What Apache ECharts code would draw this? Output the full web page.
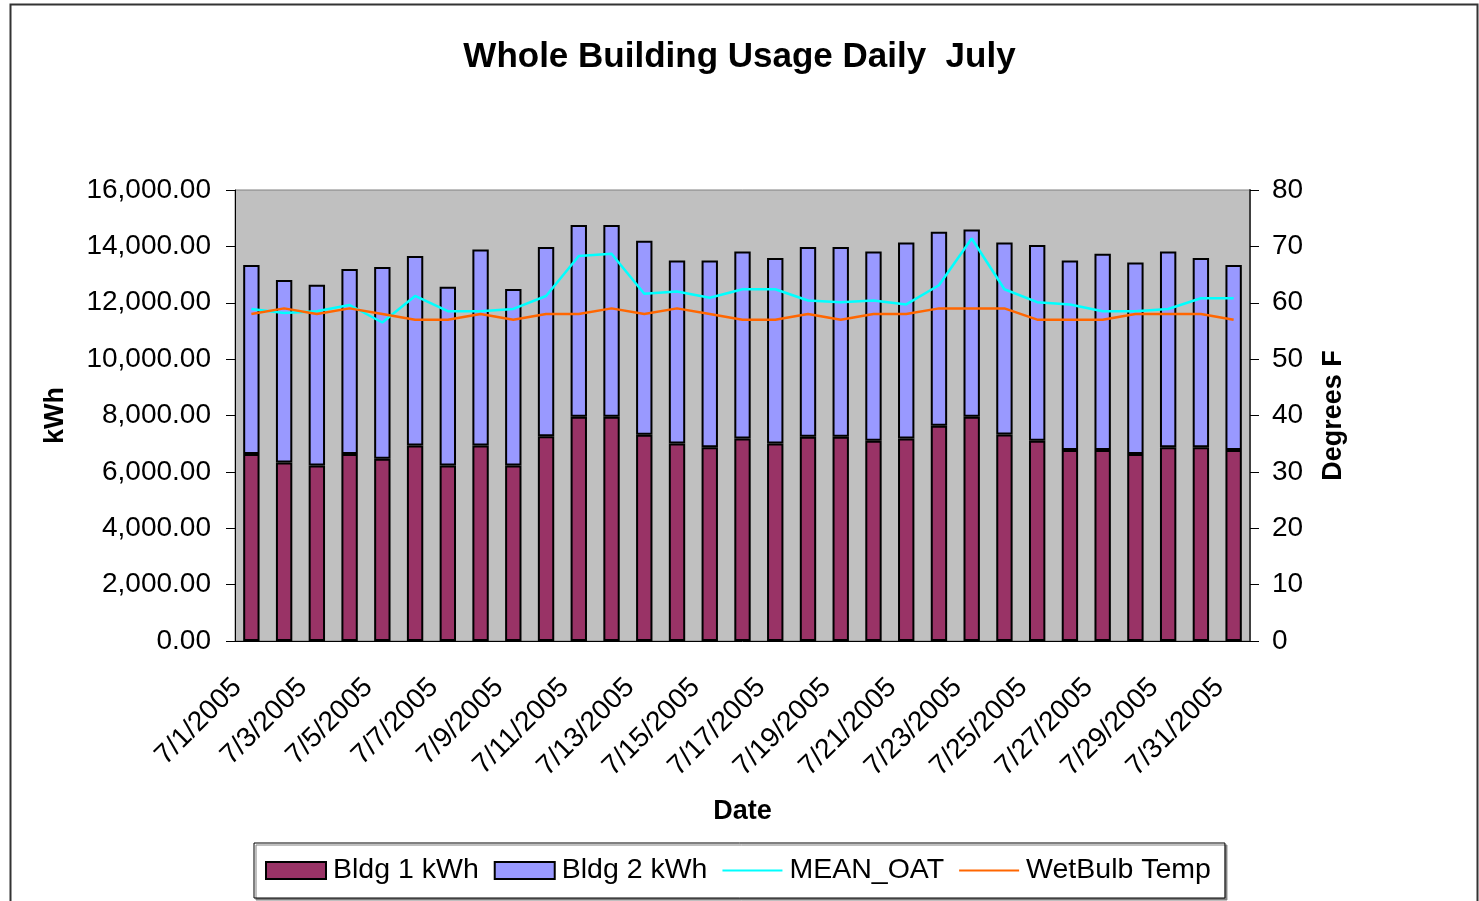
<!DOCTYPE html>
<html>
<head>
<meta charset="utf-8">
<script src="https://cdn.jsdelivr.net/npm/echarts@6/dist/echarts.min.js"></script>
<style>
  html, body { margin: 0; padding: 0; background: #fff; }
  #main { width: 1479px; height: 901px; }
</style>
</head>
<body>
<div id="main"></div>
<script>
// daily values, July 2005
const dates = ['7/1/2005', '7/2/2005', '7/3/2005', '7/4/2005', '7/5/2005', '7/6/2005', '7/7/2005', '7/8/2005',
  '7/9/2005', '7/10/2005', '7/11/2005', '7/12/2005', '7/13/2005', '7/14/2005', '7/15/2005', '7/16/2005',
  '7/17/2005', '7/18/2005', '7/19/2005', '7/20/2005', '7/21/2005', '7/22/2005', '7/23/2005', '7/24/2005',
  '7/25/2005', '7/26/2005', '7/27/2005', '7/28/2005', '7/29/2005', '7/30/2005', '7/31/2005'];
const bldg1 = [6630, 6330, 6230, 6630, 6470, 6940, 6230, 6940, 6230, 7260, 7960, 7960, 7320, 7010, 6870, 7180,
  7010, 7250, 7250, 7100, 7180, 7640, 7960, 7330, 7100, 6780, 6780, 6630, 6870, 6870, 6780];
const bldg2 = [6710, 6480, 6410, 6570, 6800, 6720, 6340, 6950, 6260, 6720, 6800, 6800, 6880, 6490, 6630, 6640,
  6580, 6730, 6730, 6720, 6960, 6880, 6640, 6810, 6950, 6720, 6960, 6800, 6950, 6720, 6560];
const meanOat = [58.9, 58.2, 58.5, 59.6, 56.5, 61.2, 58.5, 58.5, 58.9, 61.2, 68.3, 68.7, 61.6, 62.0, 60.9, 62.4,
  62.4, 60.4, 60.1, 60.4, 59.7, 63.1, 71.4, 62.4, 60.1, 59.7, 58.5, 58.5, 58.9, 60.8, 60.8];
const wetBulb = [58, 59, 58, 59, 58, 57, 57, 58, 57, 58, 58, 59, 58, 59, 58, 57,
  57, 58, 57, 58, 58, 59, 59, 59, 57, 57, 57, 58, 58, 58, 57];

const font = 'Liberation Sans, Arial, sans-serif';
// plain line swatch for the legend (no dot in the middle)
const lineIcon = 'path://M0,0L0.01,0M0,7.5L60,7.5L60,9.5L0,9.5ZM60,17L59.99,17';

const chart = echarts.init(document.getElementById('main'));

chart.setOption({
  animation: false,
  backgroundColor: '#fff',
  textStyle: { fontFamily: font, color: '#000' },
  graphic: [{
    type: 'rect',
    shape: { x: 10.5, y: 4.5, width: 1467, height: 1000 },
    style: { fill: 'none', stroke: '#333', lineWidth: 2 },
    silent: true
  }],
  title: {
    text: 'Whole Building Usage Daily  July',
    left: 'center',
    top: 35,
    padding: [5, 0, 5, 12],
    textStyle: { fontFamily: font, fontSize: 35, fontWeight: 'bold', color: '#000' }
  },
  legend: {
    left: 254,
    top: 843,
    padding: [13, 14, 13, 11],
    itemGap: 15,
    itemWidth: 60,
    itemHeight: 17,
    borderColor: '#000',
    borderWidth: 1,
    backgroundColor: '#fff',
    shadowColor: '#808080',
    shadowOffsetX: 2,
    shadowOffsetY: 2,
    textStyle: { fontFamily: font, fontSize: 28.5, color: '#000', padding: [0, 0, 0, 2] },
    data: [
      { name: 'Bldg 1 kWh', icon: 'rect' },
      { name: 'Bldg 2 kWh', icon: 'rect' },
      { name: 'MEAN_OAT', icon: lineIcon },
      { name: 'WetBulb Temp', icon: lineIcon }
    ]
  },
  grid: {
    left: 235, right: 229, top: 190, bottom: 260,
    show: true,
    backgroundColor: '#C0C0C0',
    borderColor: '#808080',
    borderWidth: 1
  },
  xAxis: {
    type: 'category',
    data: dates,
    name: 'Date',
    nameLocation: 'middle',
    nameGap: 157,
    nameTextStyle: { fontFamily: font, fontSize: 27, fontWeight: 'bold', color: '#000' },
    axisLine: { lineStyle: { color: '#000', width: 1 } },
    axisTick: { alignWithLabel: false, interval: 0, length: 6, lineStyle: { color: '#000' } },
    axisLabel: {
      interval: 1, rotate: 45, fontSize: 28, color: '#000', margin: 28, fontFamily: font,
      padding: [0, 20, 0, 0]
    },
    splitLine: { show: false }
  },
  yAxis: [{
    type: 'value',
    min: 0, max: 16000, interval: 2000,
    name: 'kWh',
    nameLocation: 'middle',
    nameGap: 166,
    nameTextStyle: { fontFamily: font, fontSize: 27, fontWeight: 'bold', color: '#000' },
    axisLine: { show: true, lineStyle: { color: '#000', width: 1 } },
    axisTick: { show: true, length: 9, lineStyle: { color: '#000' } },
    axisLabel: {
      fontSize: 28, color: '#000', margin: 24, fontFamily: font,
      formatter: v => v.toLocaleString('en-US', { minimumFractionDigits: 2, maximumFractionDigits: 2 })
    },
    splitLine: { show: false }
  }, {
    type: 'value',
    min: 0, max: 80, interval: 10,
    name: 'Degrees F',
    nameLocation: 'middle',
    nameGap: 70,
    nameTextStyle: { fontFamily: font, fontSize: 27, fontWeight: 'bold', color: '#000' },
    axisLine: { show: true, lineStyle: { color: '#404040', width: 2 } },
    axisTick: { show: true, length: 9, lineStyle: { color: '#000' } },
    axisLabel: { fontSize: 28, color: '#000', margin: 22, fontFamily: font },
    splitLine: { show: false }
  }],
  series: [{
    name: 'Bldg 1 kWh',
    type: 'bar',
    stack: 'kwh',
    barWidth: '50%',
    data: bldg1,
    itemStyle: { color: '#993366', borderColor: '#000', borderWidth: 2 }
  }, {
    name: 'Bldg 2 kWh',
    type: 'bar',
    stack: 'kwh',
    barWidth: '50%',
    data: bldg2,
    itemStyle: { color: '#9999FF', borderColor: '#000', borderWidth: 2 }
  }, {
    name: 'MEAN_OAT',
    type: 'line',
    yAxisIndex: 1,
    symbol: 'none',
    data: meanOat,
    itemStyle: { color: '#00FFFF' },
    lineStyle: { color: '#00FFFF', width: 2.5 }
  }, {
    name: 'WetBulb Temp',
    type: 'line',
    yAxisIndex: 1,
    symbol: 'none',
    data: wetBulb,
    itemStyle: { color: '#FF6600' },
    lineStyle: { color: '#FF6600', width: 2.5 }
  }]
});
</script>
</body>
</html>
